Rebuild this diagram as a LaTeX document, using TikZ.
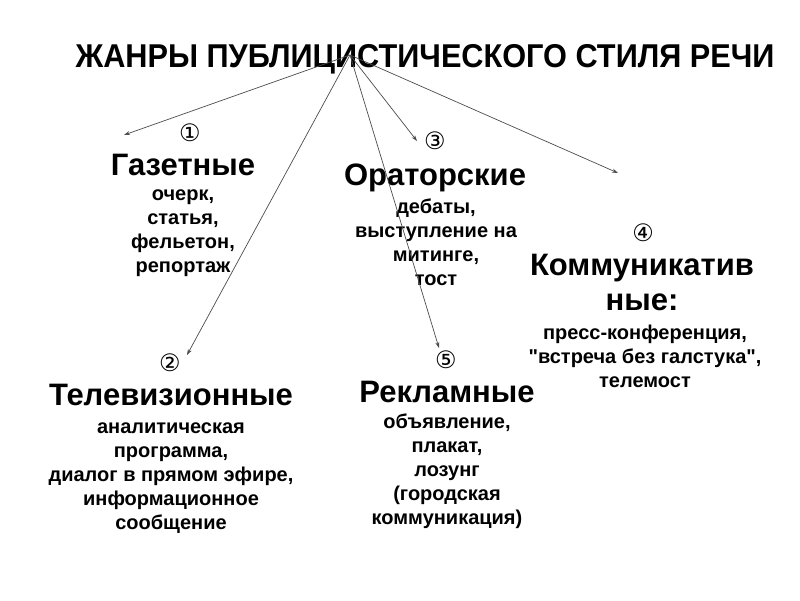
\documentclass[tikz,border=0pt]{standalone}
\usepackage{fontspec}
\setmainfont{Liberation Sans}[Ligatures=TeXOff]
\newfontfamily\titlefont[FakeStretch=0.93]{Liberation Sans}
\newfontfamily\symfont{DejaVu Sans}
\usetikzlibrary{arrows.meta}
\newcommand{\firstln}{\rule{0pt}{15pt}}
\tikzset{
  titletext/.style={font=\titlefont\fontsize{33}{38}\selectfont\bfseries, inner sep=0pt, anchor=base},
  headtext/.style={font=\fontsize{31}{35}\selectfont\bfseries, inner sep=0pt, align=center, anchor=base},
  itemtext/.style={font=\fontsize{20}{24}\selectfont\bfseries, inner sep=0pt, align=center, anchor=north},
  numtext/.style={font=\symfont\fontsize{24}{24}\selectfont, inner sep=0pt},
  link/.style={draw=black!70, line width=0.7pt, -{Stealth[length=6pt,width=4pt]}}
}
\begin{document}
\begin{tikzpicture}[x=1pt,y=-1pt]
\useasboundingbox[fill=white] (0,0) rectangle (800,600);
\node[titletext] (title) at (425,67) {ЖАНРЫ ПУБЛИЦИСТИЧЕСКОГО СТИЛЯ РЕЧИ};
\coordinate (hub) at (350,55);
\coordinate (e1) at (124,135);
\coordinate (e2) at (187,355);
\coordinate (e3) at (417,141);
\coordinate (e4) at (618,173);
\coordinate (e5) at (439,348);
% numbers
\node[numtext] (n1) at (190,133) {①};
\node[numtext] (n2) at (170,363) {②};
\node[numtext] (n3) at (435,141) {③};
\node[numtext] (n4) at (643,233) {④};
\node[numtext] (n5) at (446,360) {⑤};
% headers
\node[headtext] (h1) at (183,175) {Газетные};
\node[headtext] (h2) at (171,405) {Телевизионные};
\node[headtext] (h3) at (435,185) {Ораторские};
\node[headtext] (h4a) at (642,275) {Коммуникатив};
\node[headtext] (h4b) at (642,310) {ные:};
\node[headtext] (h5) at (447,402) {Рекламные};
% items
\node[itemtext] (i1) at (183,185) {\firstln очерк,\\статья,\\фельетон,\\репортаж};
\node[itemtext] (i2) at (171,418) {\firstln аналитическая\\программа,\\диалог в прямом эфире,\\информационное\\сообщение};
\node[itemtext] (i3) at (436,198) {\firstln дебаты,\\выступление на\\митинге,\\тост};
\node[itemtext] (i4) at (645,324) {\firstln пресс-конференция,\\"встреча без галстука",\\телемост};
\node[itemtext] (i5) at (447,413) {\firstln объявление,\\плакат,\\лозунг\\(городская\\коммуникация)};
% connectors
\draw[link] (hub) -- (e1);
\draw[link] (hub) -- (e2);
\draw[link] (hub) -- (e3);
\draw[link] (hub) -- (e4);
\draw[link] (hub) -- (e5);
\end{tikzpicture}
\end{document}
